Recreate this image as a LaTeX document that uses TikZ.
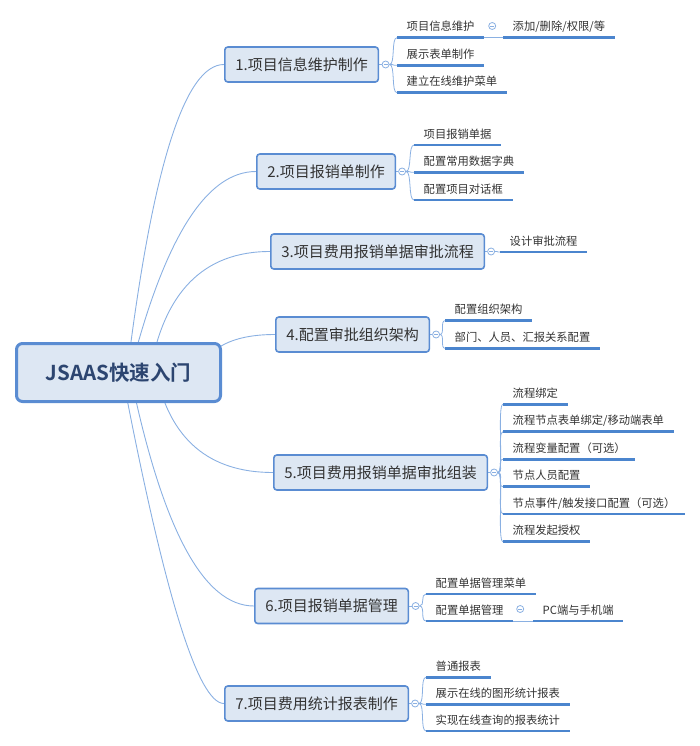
\documentclass[tikz,border=0pt]{standalone}
\usepackage{fontspec}
\setmainfont{Noto Sans CJK SC}[BoldFont={Noto Sans CJK SC Bold}]
\usetikzlibrary{backgrounds,calc}
\definecolor{bfill}{HTML}{DDE7F3}
\definecolor{bline}{HTML}{5A8CD2}
\definecolor{cline}{HTML}{8AB0E2}
\definecolor{ulcol}{HTML}{4B85CE}
\definecolor{roottext}{HTML}{2C4570}
\definecolor{tgray}{HTML}{333333}
\tikzset{
 rootbox/.style={draw=bline, fill=bfill, line width=3pt, rounded corners=6pt, minimum width=204pt, minimum height=58pt, font=\fontsize{20.5}{22}\selectfont\bfseries, text=roottext, inner sep=0pt},
 mainbox/.style={draw=bline, fill=bfill, line width=1.6pt, rounded corners=3pt, minimum height=35pt, inner xsep=10.5pt, inner ysep=0pt, font=\fontsize{15}{18}\selectfont, text=tgray, text height=13.2pt, text depth=1.8pt, anchor=west},
 leaf/.style={inner xsep=9.5pt, inner ysep=5.3pt, text height=9.9pt, text depth=1.4pt, font=\fontsize{11.3}{13}\selectfont, text=tgray, anchor=south west},
 knob/.style={circle, draw=cline, fill=white, line width=0.8pt, minimum size=7pt, inner sep=0pt, path picture={\draw[cline, line width=0.7pt] ([xshift=-2pt]path picture bounding box.center) -- ([xshift=2pt]path picture bounding box.center);}},
 spoke/.style={draw=cline, line width=0.9pt},
 twig/.style={draw=cline, line width=0.8pt},
 underl/.style={draw=ulcol, line width=2.6pt},
}
\begin{document}
\begin{tikzpicture}[x=1pt,y=-1pt]
\useasboundingbox (0,0) rectangle (700,746);
% root and main boxes
\node[rootbox] (r) at (118.5,372.5) {JSAAS快速入门};
\node[mainbox] (b1) at (224,64.5) {1.项目信息维护制作};
\node[mainbox] (b2) at (256,171.5) {2.项目报销单制作};
\node[mainbox] (b3) at (270,251.5) {3.项目费用报销单据审批流程};
\node[mainbox] (b4) at (275,334.5) {4.配置审批组织架构};
\node[mainbox] (b5) at (273,472.5) {5.项目费用报销单据审批组装};
\node[mainbox] (b6) at (254,606) {6.项目报销单据管理};
\node[mainbox] (b7) at (224,703.5) {7.项目费用统计报表制作};
% knobs
\node[knob] (k1) at ($(b1.east)+(6.5,0)$) {};
\node[knob] (k2) at ($(b2.east)+(6,0)$) {};
\node[knob] (k3) at ($(b3.east)+(6,0)$) {};
\node[knob] (k4) at ($(b4.east)+(6,0)$) {};
\node[knob] (k5) at ($(b5.east)+(6,0)$) {};
\node[knob] (k6) at ($(b6.east)+(6.5,0)$) {};
\node[knob] (k7) at ($(b7.east)+(6,0)$) {};
% leaves
\node[leaf] (c11) at (397,37.7) {项目信息维护};
\node[leaf] (c12) at (397,65.3) {展示表单制作};
\node[leaf] (c13) at (397,92.7) {建立在线维护菜单};
\node[knob] (k11) at ($(c11.south east)+(8,-11.7)$) {};
\node[leaf] (g11) at (503,37.7) {添加/删除/权限/等};
\node[leaf] (c21) at (414,145) {项目报销单据};
\node[leaf] (c22) at (414,172.3) {配置常用数据字典};
\node[leaf] (c23) at (414,200) {配置项目对话框};
\node[leaf] (c31) at (500,252) {设计审批流程};
\node[leaf] (c41) at (445,320.7) {配置组织架构};
\node[leaf] (c42) at (445,348.3) {部门、人员、汇报关系配置};
\node[leaf] (c51) at (503,404.3) {流程绑定};
\node[leaf] (c52) at (503,431.7) {流程节点表单绑定/移动端表单};
\node[leaf] (c53) at (503,459.3) {流程变量配置（可选）};
\node[leaf] (c54) at (503,486.7) {节点人员配置};
\node[leaf] (c55) at (503,514) {节点事件/触发接口配置（可选）};
\node[leaf] (c56) at (503,541.7) {流程发起授权};
\node[leaf] (c61) at (426,594) {配置单据管理菜单};
\node[leaf] (c62) at (426,621) {配置单据管理};
\node[knob] (k61) at ($(c62.south east)+(7,-12)$) {};
\node[leaf] (g61) at (533,621) {PC端与手机端};
\node[leaf] (c71) at (426,677.3) {普通报表};
\node[leaf] (c72) at (426,704.3) {展示在线的图形统计报表};
\node[leaf] (c73) at (426,731) {实现在线查询的报表统计};
% underlines
\foreach \n in {c11,c12,c13,g11,c21,c22,c23,c31,c41,c42,c51,c52,c53,c54,c55,c56,c61,c62,g61,c71,c72,c73}
  \draw[underl] (\n.south west) -- (\n.south east);
\begin{pgfonlayer}{background}
% spokes from root
\draw[spoke] (127,373) .. controls (152.33,167.33) and (184.67,64.5) .. (b1.west);
\draw[spoke] (130,373) .. controls (164,239) and (206,171.5) .. (b2.west);
\draw[spoke] (150,373) .. controls (163.33,292.5) and (203.33,251.5) .. (b3.west);
\draw[spoke] (218,348) .. controls (231.33,339) and (250.33,334.5) .. (b4.west);
\draw[spoke] (156,373) .. controls (170,439.33) and (209,472.5) .. (b5.west);
\draw[spoke] (130,373) .. controls (162,528.67) and (203.33,606) .. (b6.west);
\draw[spoke] (122,373) .. controls (164,593.33) and (198,703.5) .. (b7.west);
% box to knob
\foreach \i in {1,...,7} \draw[twig] (b\i.east) -- (k\i);
% knob to leaves
\foreach \c in {c11,c12,c13} \draw[twig] (k1.east) .. controls +(6,0) and +(-6,0) .. (\c.south west);
\foreach \c in {c21,c22,c23} \draw[twig] (k2.east) .. controls +(6,0) and +(-6,0) .. (\c.south west);
\draw[twig] (k3.east) .. controls +(5,0) and +(-5,0) .. (c31.south west);
\foreach \c in {c41,c42} \draw[twig] (k4.east) .. controls +(5,0) and +(-5,0) .. (\c.south west);
\foreach \c in {c51,c52,c53,c54,c55,c56} \draw[twig] (k5.east) .. controls +(6,0) and +(-6,0) .. (\c.south west);
\foreach \c in {c61,c62} \draw[twig] (k6.east) .. controls +(6,0) and +(-6,0) .. (\c.south west);
\foreach \c in {c71,c72,c73} \draw[twig] (k7.east) .. controls +(6,0) and +(-6,0) .. (\c.south west);
% second level
\draw[twig] (c11.south east) -- (g11.south west);
\draw[twig] (c62.south east) -- (g61.south west);
\end{pgfonlayer}
\end{tikzpicture}
\end{document}
